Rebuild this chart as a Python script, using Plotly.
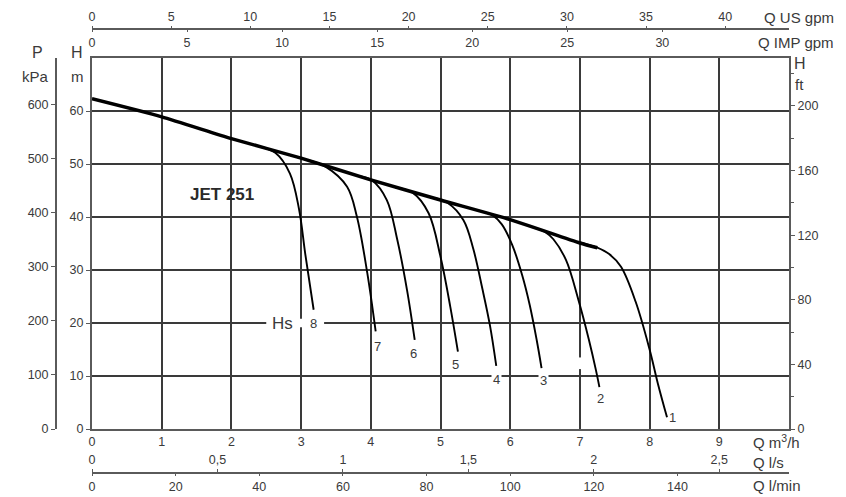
import plotly.graph_objects as go

# ---------------- data (Q in m3/h, H in m) ----------------
q_env = [0, 1, 2, 3, 4, 5, 6, 7, 7.25]
h_env = [62.3, 58.9, 54.8, 51.1, 47.0, 43.2, 39.5, 35.1, 34.2]

q_c1 = [7.0, 7.25, 7.42, 7.59, 7.8, 8.0, 8.12, 8.25]
h_c1 = [35.2, 34.2, 33.0, 30.6, 24.0, 15.0, 8.5, 2.2]
q_c2 = [6.3, 6.5, 6.62, 6.80, 6.98, 7.13, 7.23, 7.28]
h_c2 = [38.2, 37.2, 35.8, 31.9, 24.3, 16.8, 11.1, 7.9]
q_c3 = [5.55, 5.75, 5.88, 6.03, 6.17, 6.28, 6.38, 6.45]
h_c3 = [41.2, 40.3, 38.6, 34.7, 29.1, 23.4, 16.8, 11.5]
q_c4 = [4.9, 5.1, 5.33, 5.47, 5.6, 5.71, 5.8]
h_c4 = [43.6, 42.7, 39.4, 34.0, 26.5, 19.5, 11.9]
q_c5 = [4.35, 4.6, 4.83, 5.0, 5.14, 5.25]
h_c5 = [45.6, 44.6, 40.7, 32.5, 23.1, 14.6]
q_c6 = [3.8, 4.02, 4.23, 4.38, 4.52, 4.63]
h_c6 = [47.8, 46.9, 43.2, 35.7, 26.2, 16.8]
q_c7 = [3.1, 3.35, 3.66, 3.80, 3.95, 4.07]
h_c7 = [50.7, 49.5, 45.7, 40.1, 29.4, 18.4]
q_c8 = [2.4, 2.63, 2.84, 2.97, 3.06, 3.18]
h_c8 = [53.3, 52.1, 48.2, 41.5, 33.0, 22.5]

curve_names = ["1", "2", "3", "4", "5", "6", "7", "8"]
label_q = [8.33, 7.29, 6.48, 5.80, 5.22, 4.61, 4.09, 3.18]
label_h = [2.1, 5.7, 9.1, 9.4, 12.1, 14.2, 15.5, 20.0]

x_m3h_ticks = [0, 1, 2, 3, 4, 5, 6, 7, 8, 9]
x_ls_ticks = [0, 0.5, 1, 1.5, 2, 2.5]
x_ls_text = ["0", "0,5", "1", "1,5", "2", "2,5"]
x_lmin_ticks = [0, 20, 40, 60, 80, 100, 120, 140]
x_usgpm_ticks = [0, 5, 10, 15, 20, 25, 30, 35, 40]
x_impgpm_ticks = [0, 5, 10, 15, 20, 25, 30]
y_m_ticks = [0, 10, 20, 30, 40, 50, 60]
y_kpa_ticks = [0, 100, 200, 300, 400, 500, 600]

Q_MAX = 10.0
H_MAX = 70.0

# ---------------- figure ----------------
W, Hh = 846, 497
def px(x):
    return x / W
def py(y):
    return 1 - y / Hh

FONT = "Liberation Sans Narrow, Arial Narrow, Liberation Sans, Arial, sans-serif"
TXT = "#3a3a3a"
GRID = "#3a3a3a"
AXL = "#5a5a5a"

fig = go.Figure()

curves = [(q_c1, h_c1), (q_c2, h_c2), (q_c3, h_c3), (q_c4, h_c4),
          (q_c5, h_c5), (q_c6, h_c6), (q_c7, h_c7), (q_c8, h_c8)]
for q, h in curves:
    fig.add_trace(go.Scatter(x=q, y=h, mode="lines", hoverinfo="skip",
                             line=dict(color="black", width=1.9, shape="spline", smoothing=1.0),
                             showlegend=False))
fig.add_trace(go.Scatter(x=q_env, y=h_env, mode="lines", hoverinfo="skip",
                         line=dict(color="black", width=3.5, shape="spline", smoothing=0.6),
                         showlegend=False))

# invisible traces to activate secondary axes
for xa, ya in [("x2", "y"), ("x3", "y"), ("x4", "y"), ("x5", "y"), ("x", "y2"), ("x", "y3")]:
    fig.add_trace(go.Scatter(x=[0], y=[0], xaxis=xa, yaxis=ya, mode="markers",
                             marker=dict(opacity=0), hoverinfo="skip", showlegend=False))

dom_x = [px(92), px(789)]
dom_y = [py(429), py(58)]
tickf = dict(family=FONT, size=12.5, color=TXT)

fig.update_layout(
    width=W, height=Hh,
    margin=dict(l=0, r=0, t=0, b=0, autoexpand=False),
    paper_bgcolor="white", plot_bgcolor="white",
    showlegend=False,
    xaxis=dict(domain=dom_x, range=[0, Q_MAX], tickmode="array", tickvals=x_m3h_ticks,
               showgrid=True, gridcolor=GRID, gridwidth=1.6, zeroline=False,
               showline=True, linecolor=AXL, linewidth=2, mirror=True, automargin=False,
               ticks="", tickfont=tickf, anchor="y"),
    yaxis=dict(domain=dom_y, range=[0, H_MAX], tickmode="array", tickvals=y_m_ticks,
               showgrid=True, gridcolor=GRID, gridwidth=1.6, zeroline=False,
               showline=True, linecolor=AXL, linewidth=2, mirror=True, automargin=False,
               ticks="outside", ticklen=4, tickcolor=AXL, tickfont=tickf, anchor="x"),
    xaxis2=dict(overlaying="x", anchor="free", position=py(473), side="top", automargin=False,
                range=[0, Q_MAX / 3.6], tickmode="array", tickvals=x_ls_ticks, ticktext=x_ls_text,
                showgrid=False, zeroline=False, showline=True, linecolor=AXL, linewidth=2,
                ticks="outside", ticklen=3, tickcolor=AXL, tickfont=tickf),
    xaxis3=dict(overlaying="x", anchor="free", position=py(473), side="bottom", automargin=False,
                range=[0, Q_MAX * 1000 / 60], tickmode="array", tickvals=x_lmin_ticks,
                showgrid=False, zeroline=False, showline=False,
                ticks="outside", ticklen=2, tickcolor=AXL, tickfont=tickf),
    xaxis4=dict(overlaying="x", anchor="free", position=py(29), side="top", automargin=False,
                range=[0, Q_MAX / 0.227125], tickmode="array", tickvals=x_usgpm_ticks,
                showgrid=False, zeroline=False, showline=True, linecolor=AXL, linewidth=2,
                ticks="outside", ticklen=2, tickcolor=AXL, tickfont=tickf),
    xaxis5=dict(overlaying="x", anchor="free", position=py(29), side="bottom", automargin=False,
                range=[0, Q_MAX / 0.272765], tickmode="array", tickvals=x_impgpm_ticks,
                showgrid=False, zeroline=False, showline=False,
                ticks="outside", ticklen=2, tickcolor=AXL, tickfont=tickf),
    yaxis2=dict(overlaying="y", anchor="free", position=px(56), side="left", automargin=False,
                range=[0, H_MAX * 9.80665], tickmode="array", tickvals=y_kpa_ticks,
                showgrid=False, zeroline=False, showline=True, linecolor=AXL, linewidth=2,
                ticks="outside", ticklen=4, tickcolor=AXL, tickfont=tickf),
    yaxis3=dict(overlaying="y", anchor="x", side="right", automargin=False,
                range=[0, H_MAX * 3.28084], tickmode="linear", tick0=0, dtick=40,
                showgrid=False, zeroline=False, showline=True, linecolor=AXL, linewidth=2,
                ticks="outside", ticklen=4, tickcolor=AXL, tickfont=tickf,
                minor=dict(dtick=20, tick0=0, ticks="outside", ticklen=3, tickcolor=AXL, showgrid=False)),
)

# white gaps in grid lines behind labels
fig.add_shape(type="rect", x0=2.5, x1=3.33, y0=19.2, y1=20.8, xref="x", yref="y",
              fillcolor="white", line=dict(width=0), layer="between")
fig.add_shape(type="rect", x0=6.96, x1=7.04, y0=11.3, y1=13.5, xref="x", yref="y",
              fillcolor="white", line=dict(width=0), layer="between")

ann = []
def add_text(text, x, y, size=15, xanchor="center", yanchor="middle", xref="paper", yref="paper",
             bold=False, bg=None, family=FONT):
    d = dict(text=("<b>%s</b>" % text) if bold else text, x=x, y=y, xref=xref, yref=yref,
             showarrow=False, xanchor=xanchor, yanchor=yanchor,
             font=dict(family=family, size=size, color=TXT if not bold else "#2a2a2a"))
    if bg:
        d.update(bgcolor=bg, borderpad=1)
    ann.append(d)

# axis titles
add_text("Q US gpm", px(836), py(17), xanchor="right")
add_text("Q IMP gpm", px(836), py(42), xanchor="right")
add_text("Q m<sup>3</sup>/h", px(751), py(441), xanchor="left")
add_text("Q l/s", px(751), py(462), xanchor="left")
add_text("Q l/min", px(751), py(485), xanchor="left")
add_text("P", px(37), py(52), size=16)
add_text("kPa", px(35), py(76), size=15)
add_text("H", px(77), py(52), size=16)
add_text("m", px(77), py(76), size=15)
add_text("H", px(800), py(63), size=16)
add_text("ft", px(799), py(84), size=15)

# chart title
add_text("JET 251", 1.87, 44.2, size=17, xref="x", yref="y", bold=True,
         family="Liberation Sans, Arial, sans-serif")

# curve labels
for name, lq, lh in zip(curve_names, label_q, label_h):
    bg = "white" if name in ("3", "4", "8") else None
    add_text(name, lq, lh, size=13, xref="x", yref="y", bg=bg)
add_text("Hs", 2.74, 20.0, size=17, xref="x", yref="y", bg="white")

fig.update_layout(annotations=ann)

fig.write_html("out.html", config={"displayModeBar": False},
               post_script="document.body.style.margin='0px';document.body.style.padding='0px';")
